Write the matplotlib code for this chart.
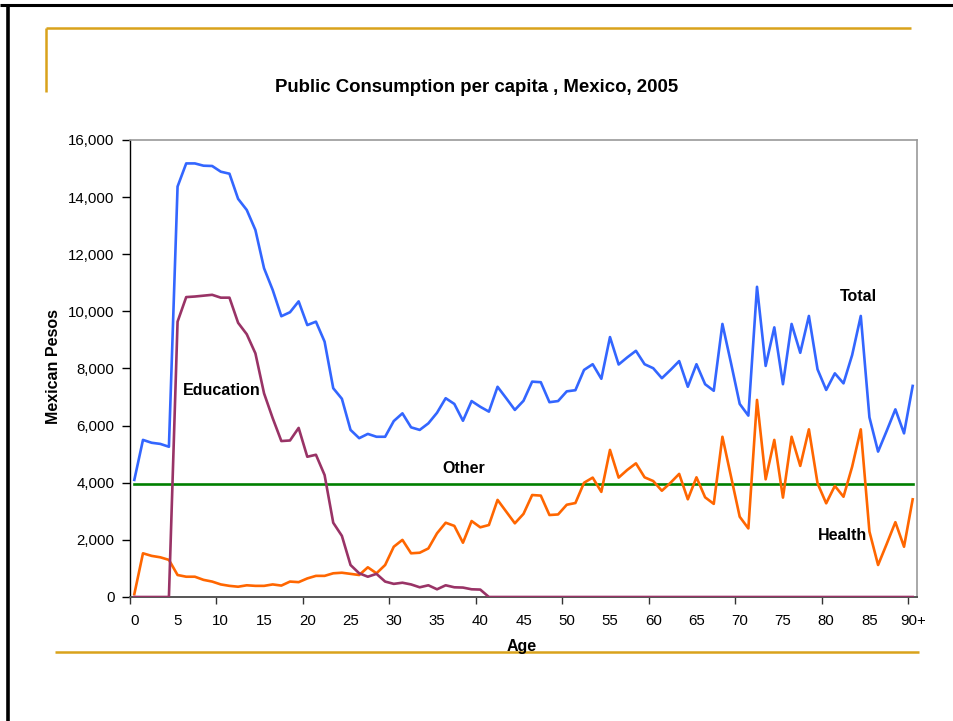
import matplotlib

matplotlib.use("Agg")

import matplotlib.pyplot as plt
from matplotlib.lines import Line2D
from matplotlib.ticker import FixedLocator, StrMethodFormatter

plt.rcParams["font.family"] = ["Liberation Sans", "DejaVu Sans"]

# ages 0 .. 90+, one category per year
AGE_LABELS = [str(a) for a in range(0, 90, 5)] + ["90+"]

TOTAL = [
    4100, 5500, 5400, 5360, 5260, 14370, 15180, 15180, 15100, 15090,
    14890, 14820, 13940, 13550, 12850, 11510, 10750, 9830, 9970, 10350,
    9520, 9640, 8940, 7310, 6940, 5850, 5560, 5710, 5610, 5610,
    6160, 6430, 5940, 5850, 6080, 6450, 6960, 6760, 6170, 6860,
    6660, 6490, 7360, 6960, 6550, 6870, 7540, 7520, 6820, 6860,
    7200, 7240, 7950, 8150, 7640, 9100, 8140, 8390, 8620, 8150,
    8010, 7660, 7950, 8260, 7360, 8150, 7450, 7220, 9560, 8180,
    6760, 6350, 10860, 8090, 9440, 7450, 9560, 8550, 9840, 7970,
    7250, 7830, 7480, 8470, 9840, 6290, 5090, 5820, 6570, 5730,
    7390,
]

EDUCATION = [
    0, 0, 0, 0, 0, 9640, 10500, 10520, 10550, 10580,
    10480, 10480, 9600, 9200, 8530, 7130, 6260, 5460, 5480, 5920,
    4910, 4980, 4270, 2600, 2140, 1120, 830, 710, 810, 540,
    460, 500, 440, 340, 410, 270, 410, 340, 330, 270,
    260, 0, 0, 0, 0, 0, 0, 0, 0, 0,
    0, 0, 0, 0, 0, 0, 0, 0, 0, 0,
    0, 0, 0, 0, 0, 0, 0, 0, 0, 0,
    0, 0, 0, 0, 0, 0, 0, 0, 0, 0,
    0, 0, 0, 0, 0, 0, 0, 0, 0, 0,
    0,
]

HEALTH = [
    100, 1530, 1440, 1390, 1300, 770, 710, 710, 600, 540,
    440, 390, 360, 410, 390, 390, 440, 400, 540, 520,
    650, 740, 740, 830, 850, 810, 770, 1040, 830, 1120,
    1760, 2000, 1530, 1550, 1700, 2230, 2600, 2490, 1900, 2660,
    2440, 2520, 3400, 2990, 2580, 2910, 3570, 3550, 2870, 2890,
    3230, 3290, 4000, 4180, 3680, 5150, 4180, 4450, 4680, 4190,
    4060, 3720, 4000, 4310, 3420, 4190, 3490, 3260, 5610, 4210,
    2810, 2400, 6900, 4120, 5500, 3480, 5610, 4590, 5870, 3980,
    3280, 3890, 3510, 4560, 5870, 2290, 1120, 1860, 2620, 1760,
    3420,
]

OTHER = [3970] * len(TOTAL)

W, H = 954, 721


def fx(px):
    return px / W


def fy(py):
    return 1 - py / H


def draw_slide_frame(fig):
    gold = "#D9A21B"
    lines = [
        ((0, 954), (5, 5), "black", 2.2),
        ((8, 8), (5, 721), "black", 2.6),
        ((46, 911), (28, 28), gold, 1.8),
        ((46, 46), (28, 92), gold, 1.8),
        ((55, 919), (652, 652), gold, 1.8),
    ]
    for (x0, x1), (y0, y1), color, lw in lines:
        fig.add_artist(
            Line2D([fx(x0), fx(x1)], [fy(y0), fy(y1)], color=color, linewidth=lw,
                   transform=fig.transFigure, solid_capstyle="butt")
        )


def main() -> None:
    fig = plt.figure(figsize=(W / 100, H / 100), dpi=100)
    draw_slide_frame(fig)

    left, right, top, bottom = 130, 917, 140, 597
    ax = fig.add_axes([fx(left), fy(bottom), fx(right - left), (bottom - top) / H])

    ages = list(range(len(TOTAL)))
    lw = 1.9
    ax.plot(ages, OTHER, color="#008000", linewidth=lw, zorder=3)
    ax.plot(ages, HEALTH, color="#FF6600", linewidth=lw, zorder=3)
    ax.plot(ages, EDUCATION, color="#993366", linewidth=lw, zorder=4)
    ax.plot(ages, TOTAL, color="#3366FF", linewidth=lw, zorder=5)

    ax.set_xlim(-0.5, len(TOTAL) - 0.5)
    ax.set_ylim(0, 16000)

    ax.set_xticks(range(0, 91, 5))
    ax.set_xticklabels(AGE_LABELS)
    ax.xaxis.set_minor_locator(FixedLocator([b - 0.5 for b in range(0, 91, 10)]))
    ax.tick_params(axis="x", which="major", length=0, pad=12, labelsize=10.8)
    ax.tick_params(axis="x", which="minor", length=5, width=1, color="#333333")

    ax.set_yticks(range(0, 16001, 2000))
    ax.yaxis.set_major_formatter(StrMethodFormatter("{x:,.0f}"))
    ax.tick_params(axis="y", length=6, width=1, pad=5, labelsize=10.8)

    ax.spines["left"].set_color("black")
    ax.spines["left"].set_linewidth(1.0)
    ax.spines["bottom"].set_color("#555555")
    ax.spines["bottom"].set_linewidth(1.4)
    for side in ("top", "right"):
        ax.spines[side].set_color("#999999")
        ax.spines[side].set_linewidth(1.2)

    label_style = dict(fontsize=11.5, fontweight="bold", ha="center", va="center")
    ax.text(83.7, 10510, "Total", **label_style)
    ax.text(10.1, 7220, "Education", **label_style)
    ax.text(38.1, 4510, "Other", **label_style)
    ax.text(81.9, 2170, "Health", **label_style)

    fig.text(fx(477), fy(88), "Public Consumption per capita , Mexico, 2005",
             fontsize=13.4, fontweight="bold", ha="center", va="center")
    fig.text(fx(54), fy(366), "Mexican Pesos", rotation=90,
             fontsize=11.5, fontweight="bold", ha="center", va="center")
    fig.text(fx(522), fy(647), "Age", fontsize=11.5, fontweight="bold",
             ha="center", va="center")

    fig.savefig("out.png", dpi=100)
    plt.close(fig)


if __name__ == "__main__":
    main()
